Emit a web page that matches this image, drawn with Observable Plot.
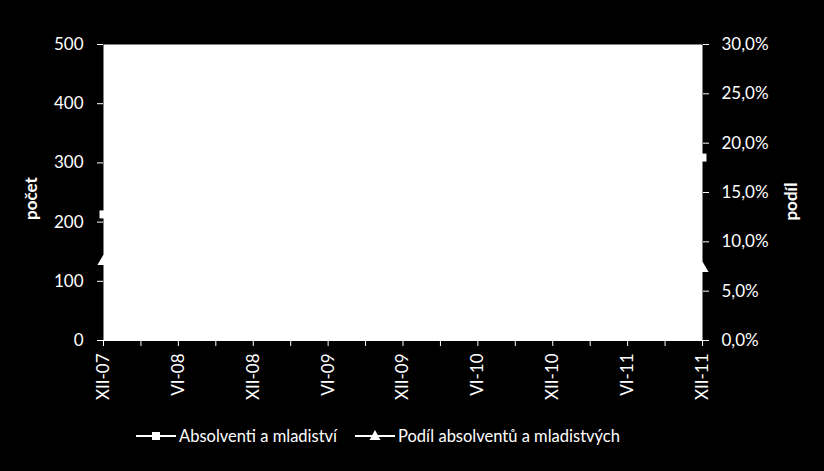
<!DOCTYPE html>
<html>
<head>
<meta charset="utf-8">
<script src="https://cdn.jsdelivr.net/npm/d3@7"></script>
<script src="https://cdn.jsdelivr.net/npm/@observablehq/plot@0.6"></script>
<style>
  html, body { margin: 0; padding: 0; background: #000; }
  body { width: 824px; height: 471px; overflow: hidden; font-family: Lato, "Open Sans", sans-serif; }
  #legend { position: absolute; left: 0; top: 423px; width: 824px; height: 26px; color: #fff; font-size: 16.5px; }
  .item { position: absolute; top: 0; display: flex; align-items: center; height: 26px; }
  .item svg { margin-right: 3px; }
</style>
</head>
<body>
<div id="chart"></div>
<div id="legend"></div>
<script>
// Months XII-07 .. XII-11 (49 monthly values)
const tickLabels = ["XII-07","VI-08","XII-08","VI-09","XII-09","VI-10","XII-10","VI-11","XII-11"];
const seriesNames = ["Absolventi a mladiství", "Podíl absolventů a mladistvých"];
const countValues = [
  213,
  205, 190, 172, 158, 145, 160, 215, 228, 262, 240, 222, 230,
  250, 255, 248, 240, 230, 262, 340, 360, 410, 385, 360, 365,
  370, 368, 352, 330, 305, 320, 390, 400, 440, 405, 370, 365,
  360, 348, 330, 300, 275, 285, 345, 355, 385, 350, 318, 309
];
const shareValues = [
  8.0,
  7.6, 7.3, 7.0, 6.8, 6.5, 7.1, 9.0, 9.4, 10.5, 9.8, 9.1, 8.9,
  8.4, 8.1, 7.8, 7.6, 7.4, 8.2, 10.0, 10.3, 11.2, 10.6, 10.0, 9.6,
  9.1, 8.8, 8.5, 8.2, 7.9, 8.3, 9.9, 10.1, 11.0, 10.2, 9.4, 9.0,
  8.6, 8.3, 8.0, 7.6, 7.2, 7.5, 9.0, 9.2, 9.9, 8.9, 8.0, 7.3
];
const leftTicks = [0, 100, 200, 300, 400, 500];
const rightTicks = [0, 5, 10, 15, 20, 25, 30];
const yMax = 500, shareMax = 30;

const rows = countValues.map((v, i) => ({i, count: v, share: shareValues[i]}));
const toLeft = s => s / shareMax * yMax;
const xTicks = d3.range(0, countValues.length, 3);

const chart = Plot.plot({
  width: 824,
  height: 410,
  marginLeft: 103,
  marginRight: 122,
  marginTop: 44,
  marginBottom: 70,
  style: {background: "#000", color: "#fff", fontFamily: "Lato, 'Open Sans', sans-serif", fontSize: "17px"},
  x: {domain: [0, countValues.length - 1]},
  y: {domain: [0, yMax]},
  marks: [
    Plot.frame({fill: "#fff", stroke: "none"}),
    Plot.axisY(leftTicks, {anchor: "left", tickSize: 6, tickPadding: 14, stroke: "#fff", fill: "#fff", label: null, tickFormat: d => String(d)}),
    Plot.axisY(rightTicks.map(toLeft), {anchor: "right", tickSize: 6, tickPadding: 13, stroke: "#fff", fill: "#fff", label: null,
      tickFormat: d => (d / yMax * shareMax).toFixed(1).replace(".", ",") + "%"}),
    Plot.axisX(xTicks, {anchor: "bottom", tickSize: 6, tickPadding: 7, tickRotate: -90, stroke: "#fff", fill: "#fff", label: null,
      tickFormat: d => d % 6 === 0 ? tickLabels[d / 6] : ""}),
    Plot.ruleY([0], {stroke: "#fff"}),
    Plot.text(["počet"], {frameAnchor: "left", textAnchor: "middle", dx: -72, dy: 6, rotate: -90, fill: "#fff", fontWeight: "bold", fontSize: 17, text: d => d}),
    Plot.text(["podíl"], {frameAnchor: "right", textAnchor: "middle", dx: 89, dy: 9, rotate: -90, fill: "#fff", fontWeight: "bold", fontSize: 17, text: d => d}),
    Plot.line(rows, {x: "i", y: "count", stroke: "#fff", strokeWidth: 2}),
    Plot.line(rows, {x: "i", y: d => toLeft(d.share), stroke: "#fff", strokeWidth: 2}),
    Plot.dot(rows, {x: "i", y: "count", symbol: "square", r: 4.5, fill: "#fff", stroke: "none"}),
    Plot.dot(rows, {x: "i", y: d => toLeft(d.share), symbol: "triangle", r: 4.5, fill: "#fff", stroke: "none"})
  ]
});
document.getElementById("chart").appendChild(chart);

// Legend
const legend = document.getElementById("legend");
const items = [
  {name: seriesNames[0], left: 136, sym: "square"},
  {name: seriesNames[1], left: 355, sym: "triangle"}
];
for (const it of items) {
  const div = document.createElement("div");
  div.className = "item";
  div.style.left = it.left + "px";
  const shape = it.sym === "square"
    ? '<rect x="16" y="9" width="8" height="8" fill="#fff"/>'
    : '<path d="M20 7 L25.5 17 L14.5 17 Z" fill="#fff"/>';
  div.innerHTML = `<svg width="40" height="26"><line x1="0" x2="40" y1="13" y2="13" stroke="#fff" stroke-width="2"/>${shape}</svg><span>${it.name}</span>`;
  legend.appendChild(div);
}
</script>
</body>
</html>
